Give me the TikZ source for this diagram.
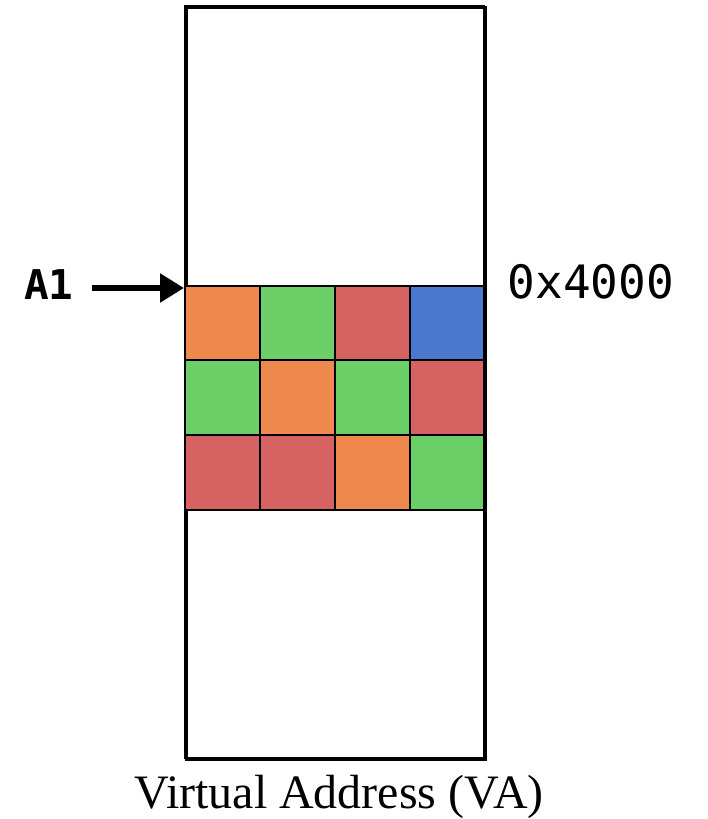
\documentclass[tikz,border=0pt]{standalone}
\usepackage{fontspec}
\setmainfont{Liberation Serif}
\setmonofont{DejaVu Sans Mono}
\usetikzlibrary{arrows.meta}
\definecolor{cor}{HTML}{EE884D}
\definecolor{cgr}{HTML}{6BCE67}
\definecolor{cre}{HTML}{D66262}
\definecolor{cbl}{HTML}{4A78CF}
\begin{document}
\begin{tikzpicture}[x=1pt,y=-1pt,
  cell/.style={draw=black,line width=2pt,minimum width=75pt,minimum height=75pt,inner sep=0pt,outer sep=0pt,anchor=north west},
  lbl/.style={inner sep=0pt,anchor=base}]
\useasboundingbox (0,0) rectangle (707,819);
\node[draw=black,line width=2.5pt,minimum width=299pt,minimum height=752pt,inner sep=0pt,anchor=north west] (mem) at (185,6) {};
% row 1
\node[cell,fill=cor] (c11) at (185,286) {};
\node[cell,fill=cgr] (c12) at (260,286) {};
\node[cell,fill=cre] (c13) at (335,286) {};
\node[cell,fill=cbl,minimum width=74pt] (c14) at (410,286) {};
% row 2
\node[cell,fill=cgr] (c21) at (185,360) {};
\node[cell,fill=cor] (c22) at (260,360) {};
\node[cell,fill=cgr] (c23) at (335,360) {};
\node[cell,fill=cre,minimum width=74pt] (c24) at (410,360) {};
% row 3
\node[cell,fill=cre] (c31) at (185,435) {};
\node[cell,fill=cre] (c32) at (260,435) {};
\node[cell,fill=cor] (c33) at (335,435) {};
\node[cell,fill=cgr,minimum width=74pt] (c34) at (410,435) {};
\draw[line width=2.5pt] (185,286) -- (484,286);
\draw[line width=2.5pt] (185,6) rectangle (484,758);
\node[lbl,font=\ttfamily\bfseries\fontsize{41}{41}\selectfont] (a1) at (49,299) {A1};
\coordinate (tip) at (184,288);
\draw[line width=5.5pt,-{Triangle[length=24pt,width=28pt]}] (92,288) -- (tip);
\node[lbl,font=\ttfamily\fontsize{46}{46}\selectfont] (addr) at (591,298) {0x4000};
\node[lbl,font=\fontsize{48}{48}\selectfont] (va) at (339,808) {Virtual Address (VA)};
\end{tikzpicture}
\end{document}
